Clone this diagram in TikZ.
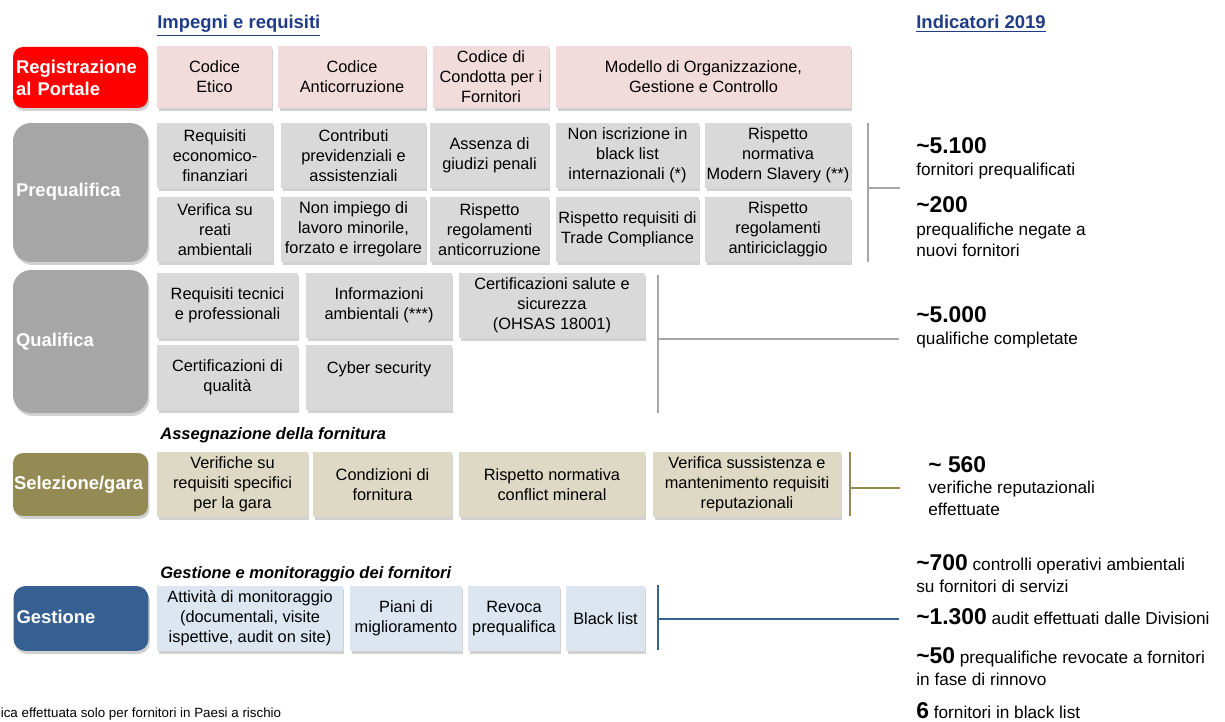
\documentclass[tikz,border=0pt]{standalone}
\usepackage{fontspec}
\setmainfont{Liberation Sans}
\usetikzlibrary{positioning,shadows}

\definecolor{rossoReg}{HTML}{FF0000}
\definecolor{grigioFase}{HTML}{A6A6A6}
\definecolor{olivaFase}{HTML}{948A54}
\definecolor{bluFase}{HTML}{376092}
\definecolor{rosaVoce}{HTML}{F2DCDB}
\definecolor{grigioVoce}{HTML}{D9D9D9}
\definecolor{olivaVoce}{HTML}{DDD9C4}
\definecolor{bluVoce}{HTML}{DCE6F1}
\definecolor{bluTitolo}{HTML}{1F3C84}

\newcommand{\grande}{\bfseries\fontsize{13}{15}\selectfont}

\tikzset{
    ombra/.style={drop shadow={shadow xshift=0.03cm, shadow yshift=-0.06cm, fill=black!45, opacity=0.4}},
    fase/.style={ombra, text=white, font=\bfseries\fontsize{10.5}{12.5}\selectfont,
        align=left, text width=2.58cm, inner xsep=0.06cm},
    voce/.style={ombra, align=center, inner sep=0.5pt, minimum height=1.3cm,
        font=\fontsize{9.3}{11.3}\selectfont},
    titolo/.style={anchor=base west, inner sep=0pt, text=bluTitolo,
        font=\bfseries\fontsize{10.5}{12.5}\selectfont},
    sottotitolo/.style={anchor=base west, inner sep=0pt,
        font=\bfseries\itshape\fontsize{9.4}{11}\selectfont},
    cifra/.style={anchor=base west, inner sep=0pt, font=\grande},
    nota/.style={anchor=base west, inner sep=0pt, font=\fontsize{9.8}{12}\selectfont},
    staffa/.style={line width=1.6pt, draw=#1}
}

\begin{document}
\begin{tikzpicture}[x=0.02cm, y=-0.02cm]
    \useasboundingbox (0,0) rectangle (1225,722);
    \clip (0,0) rectangle (1225,722);

    % titoli
    \node[titolo] (tImp) at (157,29) {\underline{Impegni e requisiti}};
    \node[titolo] (tInd) at (916,29) {\underline{Indicatori 2019}};

    % fasi
    \node[fase, fill=rossoReg, minimum height=1.22cm, rounded corners=0.2cm] (reg) at (80.5,77.5) {Registrazione\\al Portale};
    \node[fase, fill=grigioFase, minimum height=2.78cm, rounded corners=0.36cm] (preq) at (80.5,192.5) {\raisebox{0.11cm}{Prequalifica}};
    \node[fase, fill=grigioFase, minimum height=2.86cm, rounded corners=0.36cm] (qual) at (80.5,341.5) {\raisebox{0.07cm}{Qualifica}};
    \node[fase, fill=olivaFase, minimum height=1.26cm, rounded corners=0.2cm] (sel) at (80.5,484.5) {\hspace{-0.04cm}Selezione/gara};
    \node[fase, fill=bluFase, minimum height=1.3cm, rounded corners=0.24cm] (gest) at (81,618.5) {\raisebox{0.06cm}{Gestione}};

    % registrazione
    \node[voce, fill=rosaVoce, minimum height=1.24cm, minimum width=2.3cm] (etico) at (214.5,77) {Codice\\Etico};
    \node[voce, fill=rosaVoce, minimum height=1.24cm, minimum width=2.96cm] (anticorr) at (352,77) {Codice\\Anticorruzione};
    \node[voce, fill=rosaVoce, minimum height=1.24cm, minimum width=2.32cm] (condotta) at (491,77) {Codice di\\Condotta per i\\Fornitori};
    \node[voce, fill=rosaVoce, minimum height=1.24cm, minimum width=5.9cm] (modello) at (703.5,77) {Modello di Organizzazione,\\Gestione e Controllo};

    % prequalifica
    \node[voce, fill=grigioVoce, minimum width=2.32cm] (econ) at (215,155.5) {Requisiti\\economico-\\finanziari};
    \node[voce, fill=grigioVoce, minimum width=2.9cm] (contrib) at (353.5,155.5) {Contributi\\previdenziali e\\assistenziali};
    \node[voce, fill=grigioVoce, minimum width=2.38cm] (penali) at (489.5,155.5) {Assenza di\\giudizi penali};
    \node[voce, fill=grigioVoce, minimum width=2.86cm] (blist) at (627.5,155.5) {Non iscrizione in\\black list\\internazionali (*)};
    \node[voce, fill=grigioVoce, minimum width=2.92cm] (slavery) at (778,155.5) {Rispetto\\normativa\\Modern Slavery (**)};
    \node[voce, fill=grigioVoce, minimum width=2.32cm] (reati) at (215,229.5) {Verifica su\\reati\\ambientali};
    \node[voce, fill=grigioVoce, minimum width=2.9cm] (minorile) at (353.5,229.5) {Non impiego di\\lavoro minorile,\\forzato e irregolare};
    \node[voce, fill=grigioVoce, minimum width=2.38cm] (regAnti) at (489.5,229.5) {Rispetto\\regolamenti\\anticorruzione};
    \node[voce, fill=grigioVoce, minimum width=2.86cm] (trade) at (627.5,229.5) {Rispetto requisiti di\\Trade Compliance};
    \node[voce, fill=grigioVoce, minimum width=2.92cm] (riciclo) at (778,229.5) {Rispetto\\regolamenti\\antiriciclaggio};

    % qualifica
    \node[voce, fill=grigioVoce, minimum width=2.82cm] (tecnici) at (227.5,305.5) {Requisiti tecnici\\e professionali};
    \node[voce, fill=grigioVoce, minimum width=2.92cm] (ambient) at (379,305.5) {Informazioni\\ambientali (***)};
    \node[voce, fill=grigioVoce, minimum width=3.72cm] (ohsas) at (552,305.5) {Certificazioni salute e\\sicurezza\\(OHSAS 18001)};
    \node[voce, fill=grigioVoce, minimum width=2.82cm] (qualita) at (227.5,377.5) {Certificazioni di\\qualità};
    \node[voce, fill=grigioVoce, minimum width=2.92cm] (cyber) at (379,377.5) {Cyber security\\\mbox{}};

    % selezione
    \node[sottotitolo] (tAss) at (160,440) {Assegnazione della fornitura};
    \node[voce, fill=olivaVoce, minimum width=3.02cm] (gara) at (232.5,484.5) {Verifiche su\\requisiti specifici\\per la gara};
    \node[voce, fill=olivaVoce, minimum width=2.78cm] (condiz) at (382.5,484.5) {Condizioni di\\fornitura};
    \node[voce, fill=olivaVoce, minimum width=3.72cm] (conflict) at (552,484.5) {Rispetto normativa\\conflict mineral};
    \node[voce, fill=olivaVoce, minimum width=3.76cm] (reputaz) at (747,484.5) {Verifica sussistenza e\\mantenimento requisiti\\reputazionali};

    % gestione
    \node[sottotitolo] (tGes) at (160,579) {Gestione e monitoraggio dei fornitori};
    \node[voce, fill=bluVoce, minimum width=3.72cm] (monitor) at (250,618.5) {Attività di monitoraggio\\(documentali, visite\\ispettive, audit on site)};
    \node[voce, fill=bluVoce, minimum width=2.24cm] (piani) at (406,618.5) {Piani di\\miglioramento};
    \node[voce, fill=bluVoce, minimum width=1.84cm] (revoca) at (514,618.5) {Revoca\\prequalifica};
    \node[voce, fill=bluVoce, minimum width=1.58cm] (black) at (605.5,618.5) {Black list};

    % staffe verso gli indicatori
    \coordinate (pqA) at (868,123);  \coordinate (pqB) at (868,262);
    \coordinate (pqC) at (868,188);  \coordinate (pqD) at (900,188);
    \coordinate (quA) at (658,275);  \coordinate (quB) at (658,413);
    \coordinate (quC) at (658,339);  \coordinate (quD) at (899,339);
    \coordinate (seA) at (850,452);  \coordinate (seB) at (850,516);
    \coordinate (seC) at (850,488);  \coordinate (seD) at (900,488);
    \coordinate (geA) at (658,585);  \coordinate (geB) at (658,650);
    \coordinate (geC) at (658,619);  \coordinate (geD) at (899,619);
    \draw[staffa=grigioFase] (pqA) -- (pqB) (pqC) -- (pqD);
    \draw[staffa=grigioFase] (quA) -- (quB) (quC) -- (quD);
    \draw[staffa=olivaFase] (seA) -- (seB) (seC) -- (seD);
    \draw[staffa=bluFase] (geA) -- (geB) (geC) -- (geD);

    % indicatori
    \node[cifra] (n5100) at (916,154) {\textasciitilde5.100};
    \node[nota] (l5100) at (916,176) {fornitori prequalificati};
    \node[cifra] (n200) at (916,213) {\textasciitilde200};
    \node[nota] (l200a) at (916,236) {prequalifiche negate a};
    \node[nota] (l200b) at (916,257) {nuovi fornitori};
    \node[cifra] (n5000) at (916,323) {\textasciitilde5.000};
    \node[nota] (l5000) at (916,345) {qualifiche completate};
    \node[cifra] (n560) at (928,473) {\textasciitilde\ 560};
    \node[nota] (l560a) at (928,494) {verifiche reputazionali};
    \node[nota] (l560b) at (928,516) {effettuate};
    \node[nota] (g700) at (916,571) {{\grande\textasciitilde700} controlli operativi ambientali};
    \node[nota] (g700b) at (916,593) {su fornitori di servizi};
    \node[nota] (g1300) at (916,625) {{\grande\textasciitilde1.300} audit effettuati dalle Divisioni};
    \node[nota] (g50) at (916,664) {{\grande\textasciitilde50} prequalifiche revocate a fornitori};
    \node[nota] (g50b) at (916,686) {in fase di rinnovo};
    \node[nota] (g6) at (916,719) {{\grande 6} fornitori in black list};

    % nota a piè di pagina
    \node[anchor=base west, inner sep=0pt, font=\fontsize{7.6}{9}\selectfont] (piede) at (0.5,718) {ica effettuata solo per fornitori in Paesi a rischio};
\end{tikzpicture}
\end{document}
